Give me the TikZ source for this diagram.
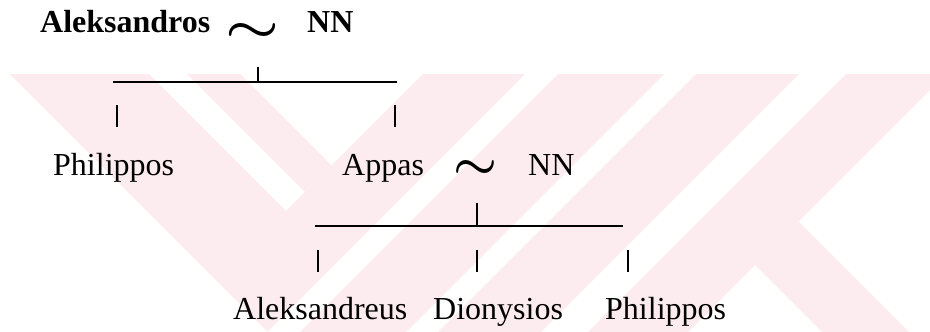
\documentclass[tikz,border=0pt]{standalone}
\usepackage{fontspec}
\setmainfont{Liberation Serif}
\definecolor{wm}{RGB}{252,235,239}
\begin{document}
\begin{tikzpicture}[x=1pt,y=-1pt,
  lbl/.style={anchor=base west, inner sep=0pt, font=\fontsize{32}{38}\selectfont},
  blbl/.style={anchor=base west, inner sep=0pt, font=\fontsize{32}{38}\selectfont\bfseries},
  tld/.style={anchor=base, inner sep=0pt},
  conn/.style={line width=1.5pt, black}]
\useasboundingbox (0,0) rectangle (930,332);
% watermark
\begin{scope}
  \clip (0,74) rectangle (930,332);
  \begin{scope}
    \clip (10,74) -- (268,332) -- (930,332) -- (930,74) -- cycle;
    \begin{scope}
      \clip (-100,0) -- (497,0) -- (97,400) -- (-100,400) -- cycle;
      \fill[wm] (-64,0) -- (75,0) -- (475,400) -- (336,400) -- cycle;
      \fill[wm] (113,0) -- (166,0) -- (566,400) -- (513,400) -- cycle;
    \end{scope}
    \foreach \a/\b in {497/599, 632/738, 770/873, 920/1020}
      \fill[wm] (\a,0) -- (\b,0) -- (\b-400,400) -- (\a-400,400) -- cycle;
  \end{scope}
  \fill[wm] (755,265) -- (798.5,221.5) -- (977,400) -- (890,400) -- cycle;
\end{scope}
% texts
\node[blbl] (aleks) at (40,32) {Aleksandros};
\node[tld] (t1) at (253,41.5) {\resizebox{54pt}{18pt}{\boldmath$\sim$}};
\node[blbl] (nn1) at (307,32) {NN};
\node[lbl] (phil1) at (53,175) {Philippos};
\node[lbl] (appas) at (342,175) {Appas};
\node[tld] (t2) at (476,178) {\resizebox{44pt}{18pt}{\boldmath$\sim$}};
\node[lbl] (nn2) at (528,175) {NN};
\node[lbl] (alx) at (233,319) {Aleksandreus};
\node[lbl] (dio) at (433,319) {Dionysios};
\node[lbl] (phil2) at (605,319) {Philippos};
% connectors
\coordinate (u1a) at (258,67); \coordinate (u1b) at (258,82);
\coordinate (l1a) at (113,82); \coordinate (l1b) at (397,82);
\coordinate (d1a) at (117,105); \coordinate (d1b) at (117,127);
\coordinate (d2a) at (395,105); \coordinate (d2b) at (395,127);
\draw[conn] (u1a) -- (u1b);
\draw[conn] (l1a) -- (l1b);
\draw[conn] (d1a) -- (d1b);
\draw[conn] (d2a) -- (d2b);
\coordinate (u2a) at (477,203); \coordinate (u2b) at (477,226);
\coordinate (l2a) at (315,226); \coordinate (l2b) at (623,226);
\coordinate (e1a) at (318,250); \coordinate (e1b) at (318,272);
\coordinate (e2a) at (477,250); \coordinate (e2b) at (477,272);
\coordinate (e3a) at (628,250); \coordinate (e3b) at (628,272);
\draw[conn] (u2a) -- (u2b);
\draw[conn] (l2a) -- (l2b);
\draw[conn] (e1a) -- (e1b);
\draw[conn] (e2a) -- (e2b);
\draw[conn] (e3a) -- (e3b);
\end{tikzpicture}
\end{document}
